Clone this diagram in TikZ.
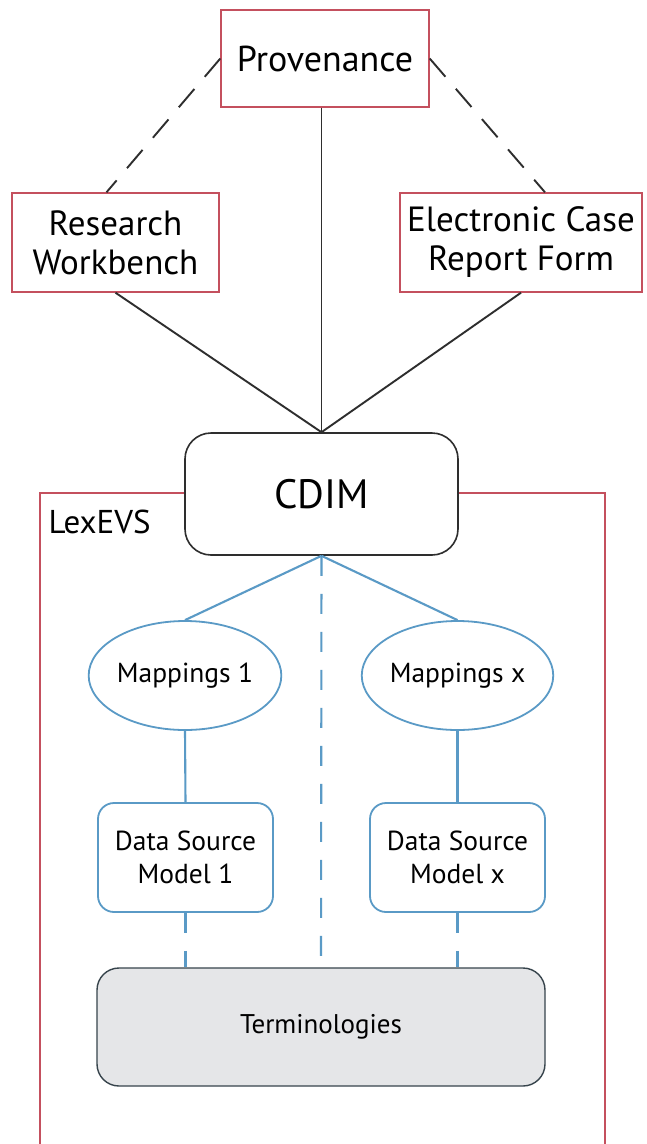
\documentclass[tikz,border=0pt]{standalone}
\usepackage{fontspec}
\setmainfont{PT Sans}
\usetikzlibrary{shapes.geometric,calc}
\definecolor{redline}{HTML}{C4505E}
\definecolor{blueline}{HTML}{5A9AC6}
\definecolor{termfill}{HTML}{E5E6E8}
\definecolor{darkline}{HTML}{2E2E2E}
\tikzset{
  redbox/.style={draw=redline, line width=1.4pt, fill=white, inner sep=0pt},
  bluebox/.style={draw=blueline, line width=1.8pt, fill=white, rounded corners=16pt, inner sep=0pt},
  blueell/.style={draw=blueline, line width=1.8pt, fill=white, ellipse, inner sep=0pt},
  blk/.style={draw=darkline, line width=1.9pt},
  blkdash/.style={draw=darkline, line width=1.9pt, dash pattern=on 24pt off 16pt},
  blu/.style={draw=blueline, line width=2.1pt},
  bludash/.style={draw=blueline, line width=2.1pt, dash pattern=on 20pt off 18pt},
}
\begin{document}
\begin{tikzpicture}[x=1pt,y=-1pt]
\useasboundingbox (0,0) rectangle (646,1144);
\fill[white] (0,0) rectangle (646,1144);
% LexEVS frame
\draw[redline, line width=1.4pt] (40,1150) -- (40,493) -- (605,493) -- (605,1150);
\node[anchor=west, font=\fontsize{33}{38}\selectfont] (lex) at (45,522) {LexEVS};

% top boxes
\node[redbox, minimum width=208pt, minimum height=97pt, font=\fontsize{36}{42}\selectfont] (prov) at (325,58.5) {Provenance};
\node[redbox, minimum width=207pt, minimum height=99pt, align=center, font=\fontsize{35}{39}\selectfont] (rw) at (115.5,242.5) {Research\\Workbench};
\node[redbox, minimum width=242pt, minimum height=99pt, align=center, font=\fontsize{35}{39}\selectfont] (ecrf) at (521,242.5) {Electronic Case\\Report Form};

% CDIM
\node[draw=darkline, line width=1.6pt, fill=white, rounded corners=26pt, minimum width=273pt, minimum height=122pt, font=\fontsize{41}{46}\selectfont] (cdim) at (321.5,494) {CDIM};

% mappings
\node[blueell, minimum width=176pt, minimum height=109pt, font=\fontsize{27.5}{32}\selectfont] (m1) at (185,675.5) {Mappings 1};
\node[blueell, minimum width=176pt, minimum height=109pt, font=\fontsize{27.5}{32}\selectfont] (mx) at (457.5,675.5) {Mappings x};

% data source models
\node[bluebox, minimum width=175pt, minimum height=109pt, align=center, font=\fontsize{27.5}{33}\selectfont] (d1) at (185.5,857.5) {Data Source\\Model 1};
\node[bluebox, minimum width=175pt, minimum height=109pt, align=center, font=\fontsize{27.5}{33}\selectfont] (dx) at (457.5,857.5) {Data Source\\Model x};

% terminologies
\node[draw=darkline!80!blueline, line width=1.4pt, fill=termfill, rounded corners=22pt, minimum width=448pt, minimum height=118pt, font=\fontsize{27}{32}\selectfont] (term) at (321,1027) {Terminologies};

% connectors top
\coordinate (rwtop) at ([xshift=-9pt]rw.north);
\coordinate (ecrftop) at ([xshift=24pt]ecrf.north);
\draw[blkdash] (prov.west) -- (rwtop);
\draw[blkdash] (prov.east) -- (ecrftop);
\draw[blk] (prov.south -| cdim.north) -- (cdim.north);
\draw[blk] (rw.south) -- (cdim.north);
\draw[blk] (ecrf.south) -- (cdim.north);

% connectors bottom
\draw[blu] (cdim.south) -- (m1.north);
\draw[blu] (cdim.south) -- (mx.north);
\draw[bludash] (cdim.south) -- (term.north);
\draw[blu] (m1.south) -- (d1.north);
\draw[blu] (mx.south) -- (dx.north);
\draw[bludash] (d1.south) -- (d1.south |- term.north);
\draw[bludash] (dx.south) -- (dx.south |- term.north);
\end{tikzpicture}
\end{document}
